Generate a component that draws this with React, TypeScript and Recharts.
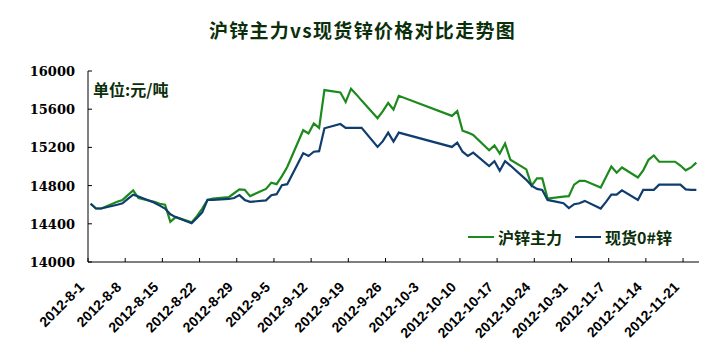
import { LineChart, Line, XAxis, YAxis, Legend } from 'recharts';

// trading days shown on the chart (weekends and the Oct holiday are skipped)
const dates = [
  '2012-8-1', '2012-8-2', '2012-8-3', '2012-8-6', '2012-8-7', '2012-8-8', '2012-8-9', '2012-8-10',
  '2012-8-13', '2012-8-14', '2012-8-15', '2012-8-16', '2012-8-17', '2012-8-20', '2012-8-21', '2012-8-22',
  '2012-8-23', '2012-8-24', '2012-8-27', '2012-8-28', '2012-8-29', '2012-8-30', '2012-8-31', '2012-9-3',
  '2012-9-4', '2012-9-5', '2012-9-6', '2012-9-7', '2012-9-10', '2012-9-11', '2012-9-12', '2012-9-13',
  '2012-9-14', '2012-9-17', '2012-9-18', '2012-9-19', '2012-9-20', '2012-9-21', '2012-9-24', '2012-9-25',
  '2012-9-26', '2012-9-27', '2012-9-28', '2012-10-8', '2012-10-9', '2012-10-10', '2012-10-11', '2012-10-12',
  '2012-10-15', '2012-10-16', '2012-10-17', '2012-10-18', '2012-10-19', '2012-10-22', '2012-10-23', '2012-10-24',
  '2012-10-25', '2012-10-26', '2012-10-29', '2012-10-30', '2012-10-31', '2012-11-1', '2012-11-2', '2012-11-5',
  '2012-11-6', '2012-11-7', '2012-11-8', '2012-11-9', '2012-11-12', '2012-11-13', '2012-11-14', '2012-11-15',
  '2012-11-16', '2012-11-19', '2012-11-20', '2012-11-21', '2012-11-22', '2012-11-23'
];

// 沪锌主力
const futures = [
  14610, 14560, 14560, 14630, 14650, 14700, 14750, 14670,
  14630, 14610, 14600, 14420, 14470, 14415, 14480, 14560,
  14650, 14665, 14680, 14720, 14760, 14755, 14690, 14765,
  14830, 14815, 14900, 14995, 15380, 15345, 15450, 15405,
  15800, 15775, 15675, 15815, 15755, 15690, 15505, 15580,
  15665, 15595, 15740, 15530, 15580, 15375, 15355, 15330,
  15170, 15220, 15135, 15240, 15070, 14970, 14800, 14875,
  14875, 14665, 14685, 14690, 14810, 14850, 14850, 14780,
  14890, 15000, 14935, 14990, 14885, 14960, 15070, 15115,
  15050, 15050, 15010, 14960, 14990, 15040
];

// 现货0#锌
const spot = [
  14610, 14560, 14560, 14600, 14615, 14660, 14705, 14685,
  14620, 14590, 14560, 14500, 14470, 14405, 14460, 14520,
  14650, 14650, 14660, 14670, 14700, 14650, 14630, 14645,
  14700, 14710, 14805, 14815, 15140, 15110, 15155, 15160,
  15400, 15445, 15405, 15405, 15405, 15405, 15205, 15265,
  15355, 15260, 15355, 15205, 15250, 15155, 15110, 15145,
  15005, 15055, 14955, 15055, 15010, 14860, 14800, 14765,
  14755, 14650, 14615, 14565, 14605, 14615, 14640, 14560,
  14630, 14705, 14705, 14750, 14650, 14755, 14755, 14755,
  14810, 14810, 14810, 14760, 14755, 14755
];

const xTickLabels = [
  '2012-8-1', '2012-8-8', '2012-8-15', '2012-8-22', '2012-8-29', '2012-9-5', '2012-9-12', '2012-9-19',
  '2012-9-26', '2012-10-3', '2012-10-10', '2012-10-17', '2012-10-24', '2012-10-31', '2012-11-7',
  '2012-11-14', '2012-11-21'
];
const yTicks = [14000, 14400, 14800, 15200, 15600, 16000];

const START = Date.UTC(2012, 7, 1);
const DAY = 86400000;

// date axis: each calendar day is one slot, points sit in the middle of their slot
function dayOffset(s: string) {
  const [y, m, d] = s.split('-').map(Number);
  return (Date.UTC(y, m - 1, d) - START) / DAY;
}

const data = dates.map((d, i) => ({
  t: dayOffset(d) + 0.5,
  futures: futures[i],
  spot: spot[i]
}));
const xTicks = xTickLabels.map(dayOffset);
const labelByDay: Record<number, string> = {};
xTickLabels.forEach((l, i) => (labelByDay[xTicks[i]] = l));

const GREEN = '#1d8a1d';
const BLUE = '#0f3d6e';
const TEXT = '#0b2e0b';
const CJK = '"Noto Sans CJK SC", sans-serif';

function XTick({ x, y, payload }: any) {
  const tx = x - 3;
  const ty = y + 26;
  return (
    <g>
      <line x1={x} y1={y - 4} x2={x} y2={y} stroke='#000' />
      <text
        x={tx}
        y={ty}
        transform={`rotate(-45 ${tx} ${ty})`}
        textAnchor='end'
        fontFamily='"Liberation Sans", Arial, sans-serif'
        fontWeight='bold'
        fontSize={14}
        fill='#000'
      >
        {labelByDay[payload.value]}
      </text>
    </g>
  );
}

function YTick({ x, y, payload }: any) {
  return (
    <g>
      <line x1={x} y1={y} x2={x + 4} y2={y} stroke='#000' />
      <text
        x={x - 13}
        y={y + 5}
        textAnchor='end'
        fontFamily='"DejaVu Serif", serif'
        fontWeight='bold'
        fontSize={13}
        fill='#000'
      >
        {payload.value}
      </text>
    </g>
  );
}

function renderLegend() {
  const items = [
    { name: '沪锌主力', color: GREEN },
    { name: '现货0#锌', color: BLUE }
  ];
  return (
    <div style={{ display: 'flex', alignItems: 'center', fontFamily: CJK, fontWeight: 'bold', fontSize: 16, color: TEXT }}>
      {items.map((it, i) => (
        <div key={it.name} style={{ display: 'flex', alignItems: 'center', marginRight: i === 0 ? 13 : 0 }}>
          <div style={{ width: 26, height: 2, background: it.color, marginRight: 4 }} />
          <span style={{ lineHeight: '18px' }}>{it.name}</span>
        </div>
      ))}
    </div>
  );
}

export default function App() {
  return (
    <div style={{ position: 'absolute', left: 0, top: 0, width: 725, height: 355, background: '#fff' }}>
      <div
        style={{
          position: 'absolute',
          left: 0,
          width: 725,
          top: 20,
          textAlign: 'center',
          paddingLeft: 0,
          fontFamily: CJK,
          fontWeight: 'bold',
          fontSize: 19,
          letterSpacing: 1.3,
          lineHeight: '20px',
          color: TEXT
        }}
      >
        沪锌主力vs现货锌价格对比走势图
      </div>
      <LineChart width={725} height={355} data={data} margin={{ top: 71, right: 26, bottom: 0, left: 0 }}>
        <XAxis
          dataKey='t'
          type='number'
          domain={[0, 115]}
          ticks={xTicks}
          interval={0}
          height={93}
          tickSize={0}
          tickMargin={0}
          tickLine={false}
          axisLine={{ stroke: '#000' }}
          tick={<XTick />}
        />
        <YAxis
          domain={[14000, 16000]}
          ticks={yTicks}
          interval={0}
          width={88}
          tickSize={0}
          tickMargin={0}
          tickLine={false}
          axisLine={{ stroke: '#000' }}
          tick={<YTick />}
        />
        <Legend
          layout='horizontal'
          verticalAlign='middle'
          align='center'
          content={renderLegend}
          wrapperStyle={{ left: 468, top: 228, width: 230 }}
        />
        <Line dataKey='futures' name='沪锌主力' stroke={GREEN} strokeWidth={2.2} dot={false} isAnimationActive={false} />
        <Line dataKey='spot' name='现货0#锌' stroke={BLUE} strokeWidth={2.2} dot={false} isAnimationActive={false} />
      </LineChart>
      <div
        style={{
          position: 'absolute',
          left: 93,
          top: 80,
          fontFamily: CJK,
          fontWeight: 'bold',
          fontSize: 16,
          lineHeight: '18px',
          color: TEXT
        }}
      >
        单位:元/吨
      </div>
    </div>
  );
}
